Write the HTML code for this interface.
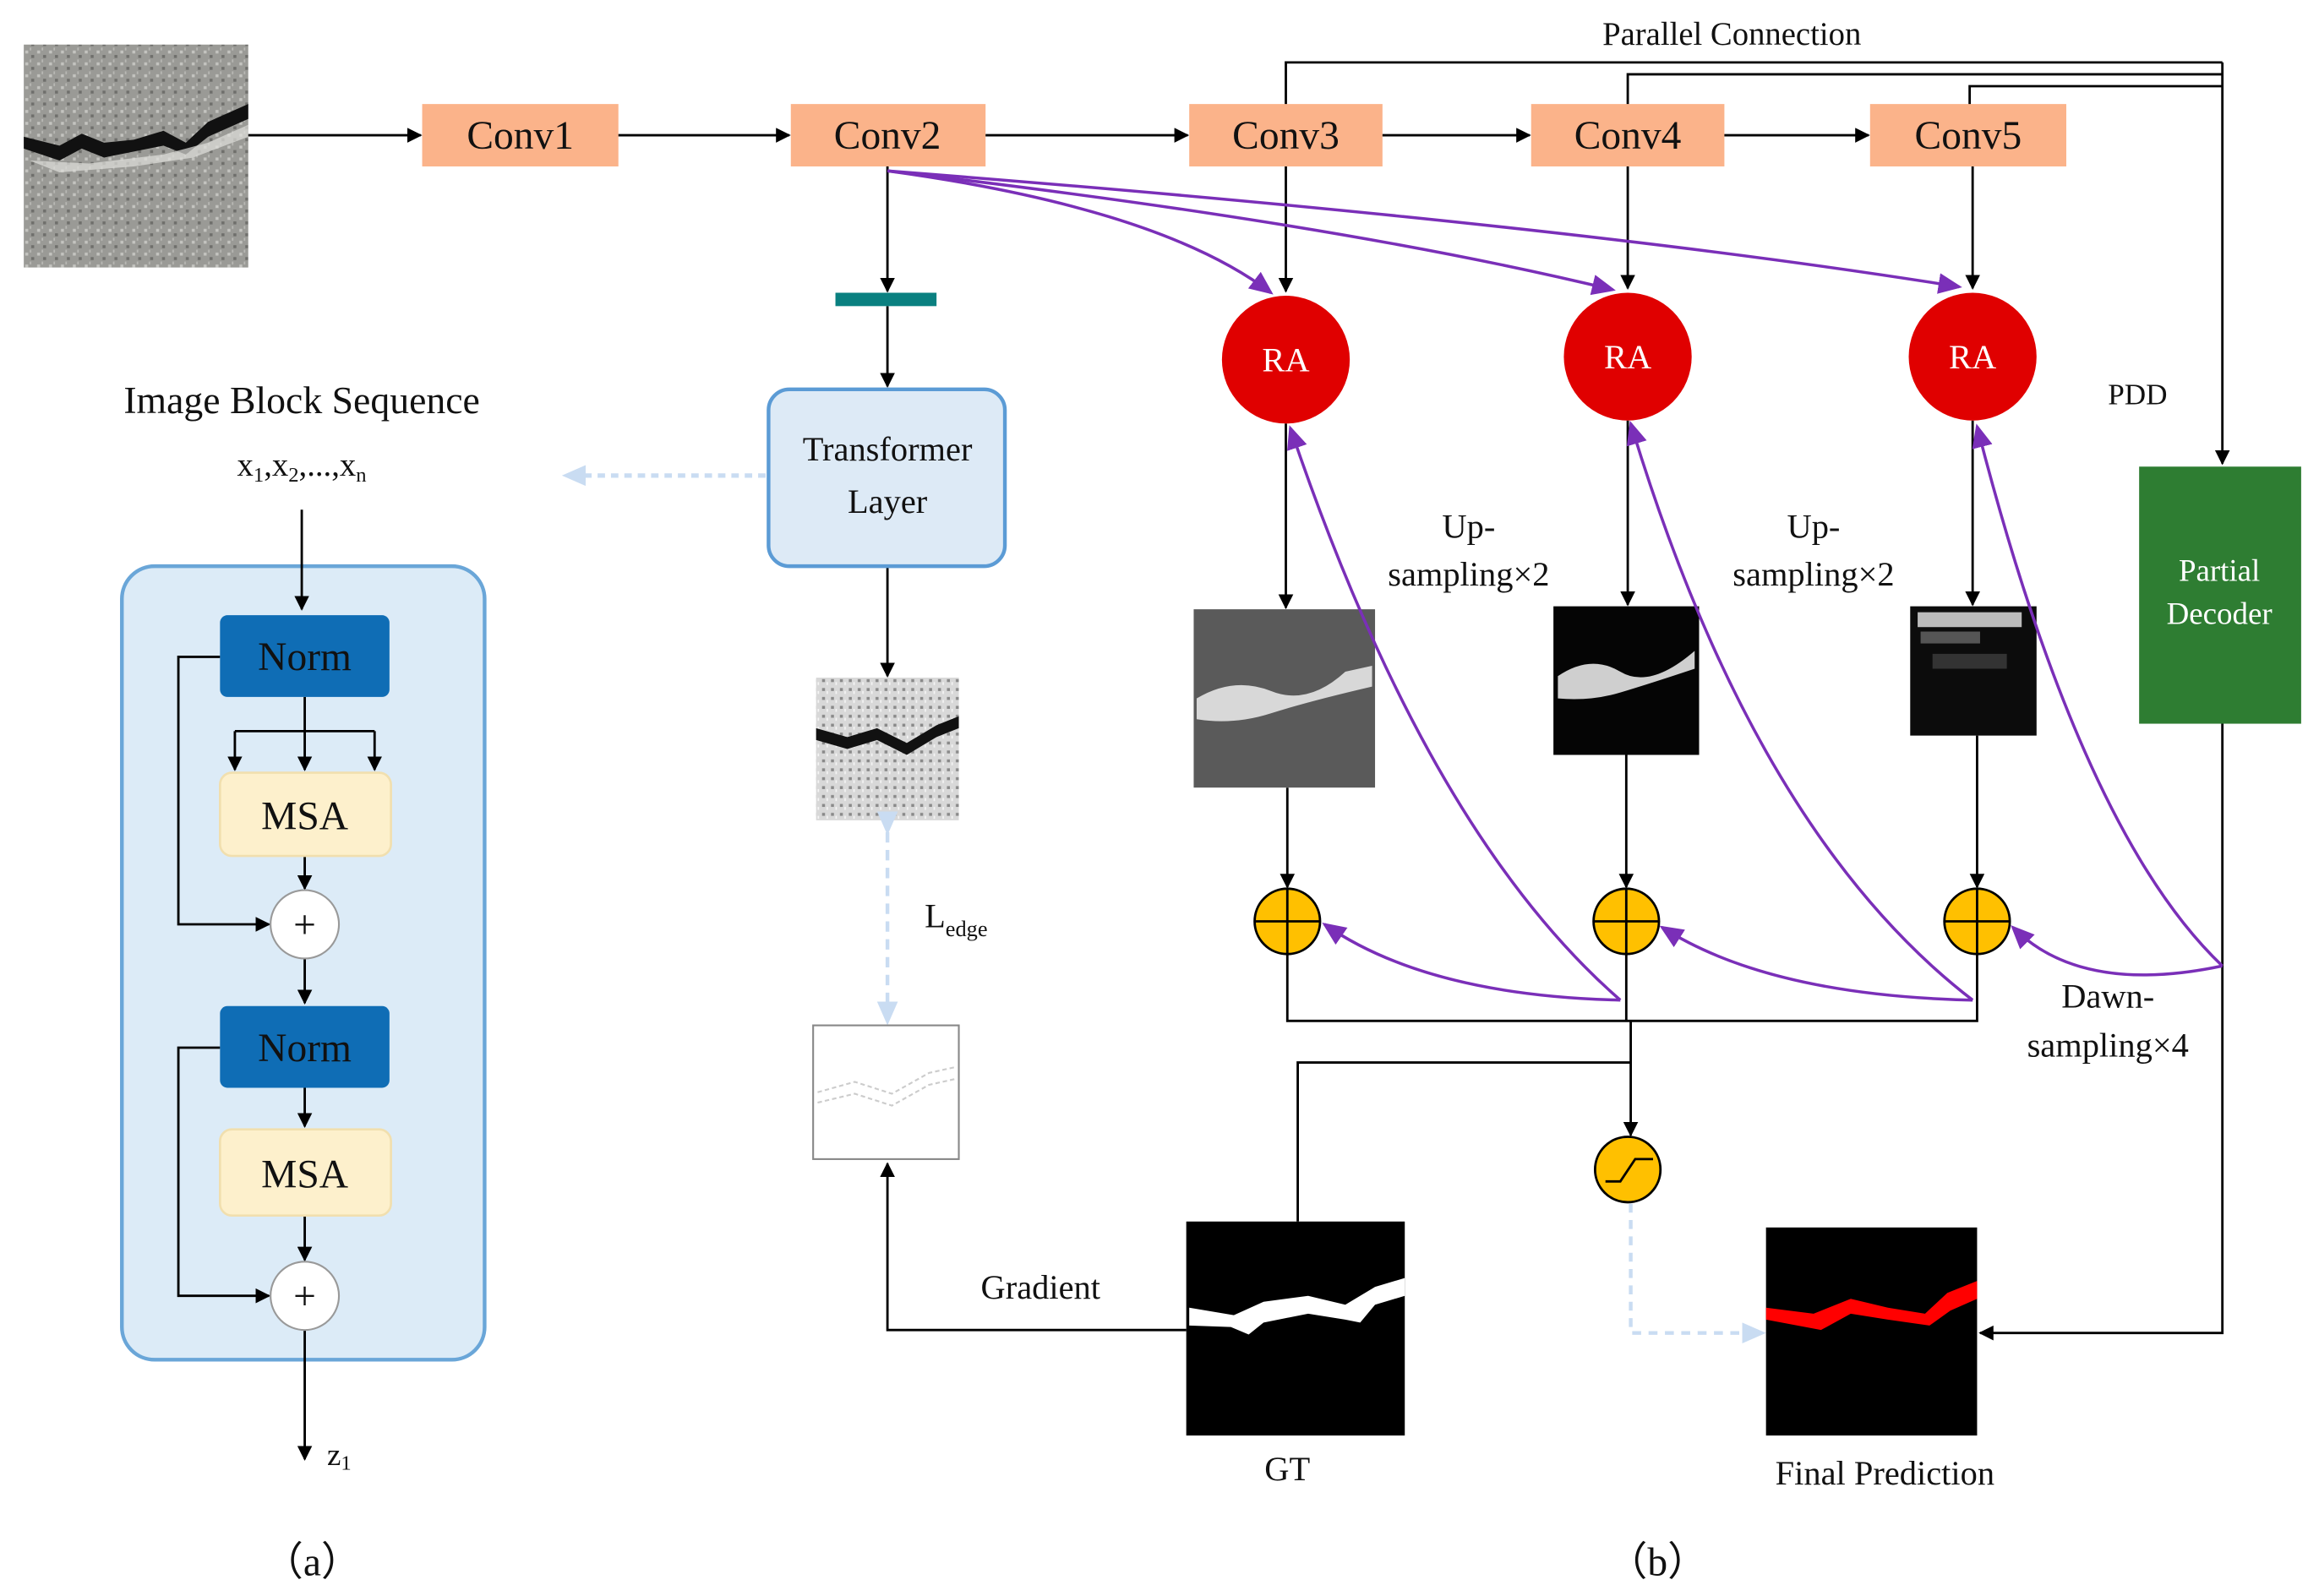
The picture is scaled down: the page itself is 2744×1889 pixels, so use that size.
<!DOCTYPE html>
<html><head><meta charset="utf-8"><style>
html,body{margin:0;padding:0;background:#fff;}
svg{display:block;}
</style></head><body>
<svg width="2744" height="1889" viewBox="0 0 1560 1074" preserveAspectRatio="none" xmlns="http://www.w3.org/2000/svg" font-family="'Liberation Serif', 'DejaVu Serif', serif" fill="#111">
<defs>
<marker id="a" markerWidth="10" markerHeight="10" refX="9" refY="5" orient="auto" markerUnits="userSpaceOnUse"><path d="M0,0 L10,5 L0,10 z" fill="#000"/></marker>
<marker id="p" markerWidth="16" markerHeight="16" refX="14" refY="8" orient="auto" markerUnits="userSpaceOnUse"><path d="M0,1 L16,8 L0,15 z" fill="#7a2fb8"/></marker>
<marker id="lb" markerWidth="16" markerHeight="16" refX="14" refY="8" orient="auto" markerUnits="userSpaceOnUse"><path d="M0,1 L16,8 L0,15 z" fill="#c9dcf2"/></marker>
<pattern id="noise" width="8" height="8" patternUnits="userSpaceOnUse"><rect width="8" height="8" fill="#9a9a96"/><rect x="1" y="2" width="2" height="2" fill="#c4c4c0"/><rect x="5" y="5" width="2" height="2" fill="#6f6f6c"/><rect x="4" y="0" width="1" height="2" fill="#b8b8b4"/></pattern>
<pattern id="noise2" width="6" height="6" patternUnits="userSpaceOnUse"><rect width="6" height="6" fill="#d8d8d8"/><rect x="1" y="1" width="2" height="2" fill="#8a8a8a"/><rect x="4" y="3" width="1" height="2" fill="#f4f4f4"/></pattern>
</defs>

<rect x="16" y="30" width="151" height="150" fill="url(#noise)"/>
<path d="M16,92 L40,98 L55,90 L70,96 L90,94 L110,88 L125,96 L140,82 L167,70 L167,80 L140,92 L125,104 L110,98 L90,102 L70,106 L55,100 L40,108 L16,100 z" fill="#111"/>
<path d="M20,108 L60,110 L110,104 L140,96 L167,84 L167,92 L130,106 L90,112 L40,116 z" fill="#e0e0dc" opacity="0.7"/>

<g fill="#fbb38a">
<rect x="284" y="70" width="132" height="42"/><rect x="532" y="70" width="131" height="42"/><rect x="800" y="70" width="130" height="42"/><rect x="1030" y="70" width="130" height="42"/><rect x="1258" y="70" width="132" height="42"/>
</g>
<g font-size="27" text-anchor="middle">
<text x="350" y="100">Conv1</text><text x="597" y="100">Conv2</text><text x="865" y="100">Conv3</text><text x="1095" y="100">Conv4</text><text x="1324" y="100">Conv5</text>
</g>
<g stroke="#000" stroke-width="1.6" fill="none" marker-end="url(#a)">
<line x1="167" y1="91" x2="283" y2="91"/><line x1="416" y1="91" x2="531" y2="91"/><line x1="663" y1="91" x2="799" y2="91"/><line x1="930" y1="91" x2="1029" y2="91"/><line x1="1160" y1="91" x2="1257" y2="91"/>
</g>
<text x="1165" y="30" font-size="22" text-anchor="middle">Parallel Connection</text>
<g stroke="#000" stroke-width="1.6" fill="none">
<polyline points="865,70 865,42 1495,42"/>
<polyline points="1095,70 1095,50 1495,50"/>
<polyline points="1325,70 1325,58 1495,58"/>
<polyline points="1495,42 1495,312" marker-end="url(#a)"/>
<polyline points="597,112 597,196" marker-end="url(#a)"/>
<polyline points="597,206 597,260" marker-end="url(#a)"/>
<polyline points="597,381 597,455" marker-end="url(#a)"/>
<polyline points="865,112 865,196" marker-end="url(#a)"/>
<polyline points="1095,112 1095,194" marker-end="url(#a)"/>
<polyline points="1327,112 1327,194" marker-end="url(#a)"/>
<polyline points="865,285 865,409" marker-end="url(#a)"/>
<polyline points="1095,283 1095,407" marker-end="url(#a)"/>
<polyline points="1327,283 1327,407" marker-end="url(#a)"/>
<polyline points="866,530 866,597" marker-end="url(#a)"/>
<polyline points="1094,508 1094,597" marker-end="url(#a)"/>
<polyline points="1330,495 1330,597" marker-end="url(#a)"/>
<polyline points="866,642 866,687 1330,687 1330,642"/>
<polyline points="1094,642 1094,687"/>
<polyline points="1097,687 1097,764" marker-end="url(#a)"/>
<polyline points="873,822 873,715 1097,715"/>
<polyline points="798,895 597,895 597,783" marker-end="url(#a)"/>
<polyline points="1495,487 1495,897 1332,897" marker-end="url(#a)"/>
</g>
<rect x="562" y="197" width="68" height="9" fill="#0a8080"/>

<rect x="517" y="262" width="159" height="119" rx="14" fill="#ddeaf6" stroke="#5b9bd5" stroke-width="2.5"/>
<text x="597" y="310" font-size="23" text-anchor="middle">Transformer</text>
<text x="597" y="345" font-size="23" text-anchor="middle">Layer</text>
<line x1="515" y1="320" x2="380" y2="320" stroke="#c9dcf2" stroke-width="3" stroke-dasharray="5,4" marker-end="url(#lb)"/>

<rect x="549" y="456" width="96" height="96" fill="url(#noise2)"/>
<path d="M549,490 L570,496 L590,490 L610,500 L630,488 L645,482 L645,490 L630,496 L610,508 L590,498 L570,504 L549,498 z" fill="#111"/>
<line x1="597" y1="560" x2="597" y2="688" stroke="#c9dcf2" stroke-width="2.5" stroke-dasharray="7,5" marker-end="url(#lb)" marker-start="url(#lb)"/>
<text x="622" y="624" font-size="23">L<tspan font-size="15" dy="6">edge</tspan></text>
<rect x="547" y="690" width="98" height="90" fill="#fff" stroke="#888" stroke-width="1.2"/>
<path d="M550,735 L575,728 L600,736 L625,722 L643,718 M550,742 L575,736 L600,744 L625,730 L643,726" stroke="#ccc" stroke-width="1.2" stroke-dasharray="3,2" fill="none"/>
<text x="700" y="874" font-size="23" text-anchor="middle">Gradient</text>

<rect x="798" y="822" width="147" height="144" fill="#000"/>
<path d="M800,880 L830,885 L850,876 L880,872 L905,878 L925,866 L945,860 L945,872 L925,878 L915,890 L905,888 L880,884 L850,890 L840,898 L828,893 L800,892 z" fill="#fff"/>
<text x="866" y="996" font-size="23" text-anchor="middle">GT</text>

<g fill="#e00000"><circle cx="865" cy="242" r="43"/><circle cx="1095" cy="240" r="43"/><circle cx="1327" cy="240" r="43"/></g>
<g font-size="23" text-anchor="middle" fill="#fff"><text x="865" y="250">RA</text><text x="1095" y="248">RA</text><text x="1327" y="248">RA</text></g>

<rect x="803" y="410" width="122" height="120" fill="#5a5a5a"/>
<path d="M805,470 Q830,455 855,465 T905,452 L923,448 L923,462 Q880,472 855,480 T805,484 z" fill="#d8d8d8"/>
<rect x="1045" y="408" width="98" height="100" fill="#050505"/>
<path d="M1048,455 Q1070,440 1090,452 T1140,438 L1140,450 Q1110,460 1090,466 T1048,470 z" fill="#cfcfcf"/>
<rect x="1285" y="408" width="85" height="87" fill="#0c0c0c"/>
<rect x="1290" y="412" width="70" height="10" fill="#bbb"/><rect x="1292" y="425" width="40" height="8" fill="#555"/><rect x="1300" y="440" width="50" height="10" fill="#333"/>

<g fill="#ffc000" stroke="#000" stroke-width="1.6">
<circle cx="866" cy="620" r="22"/><circle cx="1094" cy="620" r="22"/><circle cx="1330" cy="620" r="22"/><circle cx="1095" cy="787" r="22"/>
</g>
<g stroke="#000" stroke-width="1.6">
<line x1="844" y1="620" x2="888" y2="620"/><line x1="866" y1="598" x2="866" y2="642"/>
<line x1="1072" y1="620" x2="1116" y2="620"/><line x1="1094" y1="598" x2="1094" y2="642"/>
<line x1="1308" y1="620" x2="1352" y2="620"/><line x1="1330" y1="598" x2="1330" y2="642"/>
</g>
<path d="M1080,795 L1090,795 L1100,780 L1112,780" stroke="#000" stroke-width="1.6" fill="none"/>
<polyline points="1097,810 1097,897 1186,897" stroke="#c9dcf2" stroke-width="2.5" stroke-dasharray="6,5" fill="none" marker-end="url(#lb)"/>

<g stroke="#7a2fb8" stroke-width="2" fill="none" marker-end="url(#p)">
<path d="M597,115 Q780,140 855,197"/>
<path d="M597,115 Q900,150 1085,195"/>
<path d="M597,115 Q1050,150 1318,193"/>
<path d="M1090,673 Q960,560 868,288"/>
<path d="M1090,673 Q960,670 891,622"/>
<path d="M1327,673 Q1180,560 1097,285"/>
<path d="M1327,673 Q1190,670 1118,624"/>
<path d="M1495,650 Q1400,560 1330,287"/>
<path d="M1495,650 Q1400,670 1354,624"/>
</g>

<g font-size="23" text-anchor="middle">
<text x="988" y="362">Up-</text><text x="988" y="394">sampling×2</text>
<text x="1220" y="362">Up-</text><text x="1220" y="394">sampling×2</text>
<text x="1418" y="678">Dawn-</text><text x="1418" y="711">sampling×4</text>
</g>
<text x="1438" y="272" font-size="20" text-anchor="middle">PDD</text>

<rect x="1439" y="314" width="109" height="173" fill="#2e7d32"/>
<text x="1493" y="391" font-size="21" text-anchor="middle" fill="#fff">Partial</text>
<text x="1493" y="420" font-size="21" text-anchor="middle" fill="#fff">Decoder</text>

<rect x="1188" y="826" width="142" height="140" fill="#000"/>
<path d="M1188,880 L1220,884 L1245,874 L1270,880 L1295,884 L1310,870 L1330,862 L1330,874 L1312,882 L1298,892 L1270,888 L1245,884 L1225,895 L1188,888 z" fill="#ff0000"/>
<text x="1268" y="999" font-size="23" text-anchor="middle">Final Prediction</text>

<text x="203" y="278" font-size="26" text-anchor="middle">Image Block Sequence</text>
<text x="203" y="320" font-size="22" text-anchor="middle">x<tspan font-size="14" dy="4">1</tspan><tspan dy="-4">,x</tspan><tspan font-size="14" dy="4">2</tspan><tspan dy="-4">,...,x</tspan><tspan font-size="14" dy="4">n</tspan></text>
<rect x="82" y="381" width="244" height="534" rx="22" fill="#dcebf7" stroke="#6aa6d8" stroke-width="2.5"/>
<g stroke="#000" stroke-width="1.6" fill="none">
<polyline points="203,343 203,410" marker-end="url(#a)"/>
<polyline points="205,469 205,518" marker-end="url(#a)"/>
<polyline points="158,492 252,492"/>
<polyline points="158,492 158,518" marker-end="url(#a)"/>
<polyline points="252,492 252,518" marker-end="url(#a)"/>
<polyline points="148,442 120,442 120,622 181,622" marker-end="url(#a)"/>
<polyline points="205,576 205,598" marker-end="url(#a)"/>
<polyline points="205,645 205,675" marker-end="url(#a)"/>
<polyline points="205,732 205,758" marker-end="url(#a)"/>
<polyline points="148,705 120,705 120,872 181,872" marker-end="url(#a)"/>
<polyline points="205,818 205,848" marker-end="url(#a)"/>
<polyline points="205,895 205,982" marker-end="url(#a)"/>
</g>
<rect x="148" y="414" width="114" height="55" rx="5" fill="#0f6db5"/>
<rect x="148" y="677" width="114" height="55" rx="5" fill="#0f6db5"/>
<rect x="148" y="520" width="115" height="56" rx="8" fill="#fdf0cc" stroke="#f1dfae" stroke-width="1.5"/>
<rect x="148" y="760" width="115" height="58" rx="8" fill="#fdf0cc" stroke="#f1dfae" stroke-width="1.5"/>
<g font-size="27" text-anchor="middle">
<text x="205" y="451">Norm</text><text x="205" y="714">Norm</text>
<text x="205" y="558">MSA</text><text x="205" y="799">MSA</text>
</g>
<g fill="#fff" stroke="#999" stroke-width="1.2"><circle cx="205" cy="622" r="23"/><circle cx="205" cy="872" r="23"/></g>
<g font-size="27" text-anchor="middle"><text x="205" y="631">+</text><text x="205" y="881">+</text></g>
<text x="220" y="986" font-size="21">z<tspan font-size="14" dy="3">1</tspan></text>
<text x="210" y="1060" font-size="27" text-anchor="middle">（a）</text>
<text x="1115" y="1060" font-size="27" text-anchor="middle">（b）</text>
</svg>
</body></html>
